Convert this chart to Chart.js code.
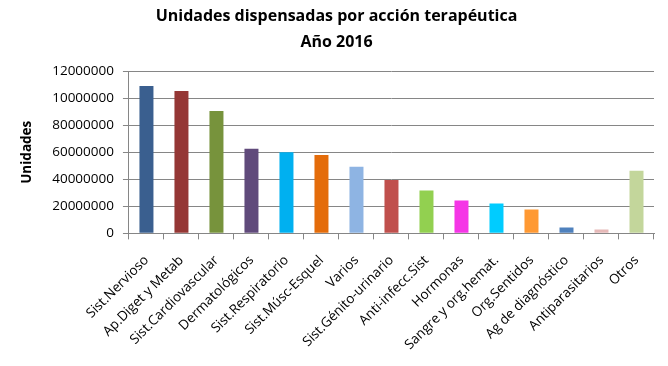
<!DOCTYPE html>
<html><head><meta charset="utf-8">
<script src="https://cdn.jsdelivr.net/npm/chart.js@4"></script>
<style>html,body{margin:0;padding:0;background:#fff}#w{width:668px;height:366px}</style>
</head><body><div id="w"><canvas id="c"></canvas></div>
<script>
const categories = ["Sist.Nervioso","Ap.Diget y Metab","Sist.Cardiovascular","Dermatológicos","Sist.Respiratorio","Sist.Músc-Esquel","Varios","Sist.Génito-urinario","Anti-infecc.Sist","Hormonas","Sangre y org.hemat.","Org.Sentidos","Ag de diagnóstico","Antiparasitarios","Otros"];
const values = [109000000,105300000,90500000,62600000,60100000,58000000,49300000,39400000,31700000,24300000,22100000,17700000,4400000,2900000,46400000];
const barColors = ["#3A5F8F","#953735","#77933C","#604A7B","#00B0F0","#E46C0A","#8EB4E3","#C0504D","#92D050","#F535E6","#00CCFF","#FF9933","#4F81BD","#E6B9B8","#C3D69B"];
const yTickLabels = ["0","20000000","40000000","60000000","80000000","10000000","12000000"];
const titleLines = ["Unidades dispensadas por acción terapéutica","Año 2016"];
const yTitle = "Unidades";
const FONT = "'Open Sans', sans-serif";
new Chart(document.getElementById('c'), {
  type: 'bar',
  data: { labels: categories, datasets: [{ data: values, backgroundColor: barColors, barPercentage: 0.4, categoryPercentage: 1.0 }] },
  options: {
    responsive: true, maintainAspectRatio: false, animation: false,
    layout: { padding: { top: 4, right: 14, left: 19, bottom: 0 } },
    plugins: {
      legend: { display: false }, tooltip: { enabled: false },
      title: { display: true, text: titleLines, color: '#000', font: { family: FONT, size: 16, weight: 'bold', lineHeight: 1.6 }, padding: { top: 0, bottom: 16 } }
    },
    scales: {
      x: {
        grid: { display: true, offset: true, drawOnChartArea: false, drawTicks: true, tickLength: 6, color: '#868686' },
        border: { color: '#868686' },
        ticks: { color: '#000', maxRotation: 45, minRotation: 45, autoSkip: false, padding: 13, font: { family: FONT, size: 13.5 } }
      },
      y: {
        min: 0, max: 120000000,
        grid: { color: '#868686', tickLength: 6, drawTicks: true },
        border: { color: '#868686' },
        ticks: { stepSize: 20000000, color: '#000', padding: 9, font: { family: FONT, size: 13.5 },
          callback: (v, i) => yTickLabels[i] },
        title: { display: true, text: yTitle, color: '#000', font: { family: FONT, size: 13.5, weight: 'bold' }, padding: { top: 0, bottom: 8 } }
      }
    }
  }
});
</script></body></html>
